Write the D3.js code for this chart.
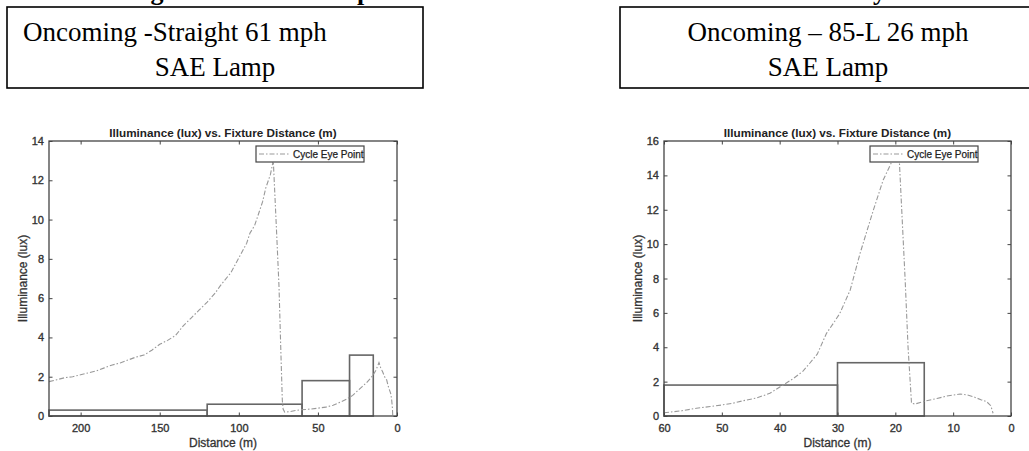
<!DOCTYPE html>
<html>
<head>
<meta charset="utf-8">
<script src="https://cdn.jsdelivr.net/npm/d3@7"></script>
<style>
    body { margin: 0; background: #fff; }
    svg { display: block; }
</style>
</head>
<body>
<script>
// left panel: oncoming straight, 61 mph
const straightDist = [220, 215, 210, 205, 200, 195, 190, 185, 180, 175, 170, 165, 160, 155, 150, 145, 140, 135, 130, 125, 120, 115, 112, 110, 105, 100, 95, 93, 90, 85, 83, 80, 78.5, 78.2, 76.2, 74.6, 73.5, 72.5, 72, 71, 68, 65, 61.5, 55, 51, 45, 40.4, 36, 32, 28, 25.5, 22, 19.2, 17, 15, 13.5, 12.2, 11.4, 10.3, 9.1, 7.8, 6.5, 5.5, 4, 3.4, 2.9, 2.7];
const straightLux = [1.75, 1.85, 1.95, 2.0, 2.1, 2.2, 2.3, 2.45, 2.6, 2.7, 2.85, 3.0, 3.1, 3.35, 3.65, 3.85, 4.1, 4.6, 5.0, 5.4, 5.8, 6.25, 6.6, 6.8, 7.3, 8.05, 8.8, 9.3, 9.7, 10.9, 11.6, 12.3, 12.9, 13.0, 9.5, 6.6, 3.5, 0.8, 0.35, 0.2, 0.22, 0.27, 0.31, 0.35, 0.39, 0.45, 0.55, 0.7, 0.85, 1.05, 1.24, 1.5, 1.7, 1.9, 2.1, 2.3, 2.55, 2.72, 2.45, 2.25, 2.0, 1.83, 1.5, 1.15, 0.85, 0.4, 0.05];
const straightBoxFrom = [220, 120, 60, 30];
const straightBoxTo = [120, 60, 30, 15];
const straightBoxLux = [0.3, 0.6, 1.8, 3.1];

// right panel: oncoming 85-L, 26 mph
const leftTurnDist = [60, 57, 54.4, 52, 50, 48, 46.3, 44, 41.7, 39.9, 37.6, 36, 34.8, 33.5, 31.9, 30.5, 29.6, 27.8, 26.1, 23.8, 22.1, 20.6, 19.9, 19.5, 19.3, 18.3, 17.8, 17.2, 16.6, 14.6, 12.8, 11.1, 8.8, 7.5, 6.5, 5.2, 4.2, 3.5, 3.1];
const leftTurnLux = [0.19, 0.3, 0.45, 0.55, 0.64, 0.75, 0.89, 1.05, 1.32, 1.7, 2.19, 2.6, 3.07, 3.6, 4.81, 5.5, 5.97, 7.33, 9.46, 11.98, 13.73, 14.8, 15.2, 15.1, 14.8, 7.9, 4.0, 0.74, 0.7, 0.89, 1.02, 1.16, 1.28, 1.22, 1.12, 0.95, 0.83, 0.6, 0.16];
const leftTurnBoxFrom = [60, 30];
const leftTurnBoxTo = [30, 15];
const leftTurnBoxLux = [1.8, 3.1];

const straightXTicks = [200, 150, 100, 50, 0];
const straightYTicks = [0, 2, 4, 6, 8, 10, 12, 14];
const leftTurnXTicks = [60, 50, 40, 30, 20, 10, 0];
const leftTurnYTicks = [0, 2, 4, 6, 8, 10, 12, 14, 16];

const headerTitle = "Oncoming Vehicle Headlamp Illuminance versus Fixture Distance at the Cycle Rider Level";
const caseLines = [
    ["Oncoming -Straight 61 mph", "SAE Lamp"],
    ["Oncoming \u2013 85-L 26 mph", "SAE Lamp"]
];
const plotTitle = "Illuminance (lux) vs. Fixture Distance (m)";
const xTitle = "Distance (m)";
const yTitle = "Illuminance (lux)";
const legendLabel = "Cycle Eye Point";

const SANS = "'Liberation Sans', Arial, Helvetica, sans-serif";
const SERIF = "'Liberation Serif', 'Times New Roman', serif";
const INK = "#333";

const svg = d3.select("body")
    .append("svg")
    .attr("width", 1029)
    .attr("height", 451);

// caption of the page, cut off at the top edge as in the scan
svg.append("text")
    .attr("x", 48)
    .attr("y", -0.5)
    .attr("font-family", SERIF)
    .attr("font-weight", "bold")
    .attr("font-size", 26)
    .attr("fill", "#000")
    .text(headerTitle);

// the two case boxes
function drawCaseBox(x, lines, firstX) {
    let g = svg.append("g");
    g.append("rect")
        .attr("x", x).attr("y", 7)
        .attr("width", 416).attr("height", 81)
        .attr("fill", "#fff")
        .attr("stroke", "#000")
        .attr("stroke-width", 1.6);

    g.append("text")
        .attr("x", firstX === null ? x + 208 : firstX)
        .attr("y", 41)
        .attr("text-anchor", firstX === null ? "middle" : "start")
        .attr("font-family", SERIF)
        .attr("font-size", 27)
        .attr("fill", "#000")
        .text(lines[0]);

    g.append("text")
        .attr("x", x + 208)
        .attr("y", 76)
        .attr("text-anchor", "middle")
        .attr("font-family", SERIF)
        .attr("font-size", 27)
        .attr("fill", "#000")
        .text(lines[1]);
}

drawCaseBox(7, caseLines[0], 23);
drawCaseBox(620, caseLines[1], null);

function drawPanel(opt) {
    let x = d3.scaleLinear().domain(opt.xDomain).range([opt.left, opt.right]);
    let y = d3.scaleLinear().domain(opt.yDomain).range([opt.bottom, opt.top]);
    let g = svg.append("g");

    // boxes (bars spanning distance ranges)
    g.append("g")
        .selectAll("rect")
        .data(opt.boxLux.map((v, i) => ({from: opt.boxFrom[i], to: opt.boxTo[i], lux: v})))
        .enter()
        .append("rect")
        .attr("x", d => Math.min(x(d.from), x(d.to)))
        .attr("width", d => Math.abs(x(d.to) - x(d.from)))
        .attr("y", d => y(d.lux))
        .attr("height", d => y(0) - y(d.lux))
        .attr("fill", "none")
        .attr("stroke", "#666")
        .attr("stroke-width", 1.6);

    // dash-dot curve
    let pts = opt.dist.map((d, i) => [d, opt.lux[i]]);
    g.append("path")
        .datum(pts)
        .attr("fill", "none")
        .attr("stroke", "#999")
        .attr("stroke-width", 1.1)
        .attr("stroke-dasharray", "5,2,1.5,2")
        .attr("d", d3.line().x(p => x(p[0])).y(p => y(p[1])));

    // axes, MATLAB style: ticks inside on all four sides
    let tick = 3.5;
    let styleAxis = function (sel) {
        sel.select(".domain").remove();
        sel.selectAll(".tick line").attr("stroke", "#444").attr("stroke-width", 1);
        sel.selectAll(".tick text")
            .attr("fill", INK)
            .attr("stroke", INK)
            .attr("stroke-width", 0.35)
            .attr("font-family", SANS)
            .attr("font-size", 11);
    };

    g.append("g")
        .attr("transform", "translate(0," + opt.bottom + ")")
        .call(d3.axisBottom(x).tickValues(opt.xTicks).tickSize(-tick).tickPadding(8).tickFormat(d3.format("d")))
        .call(styleAxis);
    g.append("g")
        .attr("transform", "translate(0," + opt.top + ")")
        .call(d3.axisTop(x).tickValues(opt.xTicks).tickSize(-tick).tickFormat(""))
        .call(styleAxis);
    g.append("g")
        .attr("transform", "translate(" + opt.left + ",0)")
        .call(d3.axisLeft(y).tickValues(opt.yTicks).tickSize(-tick).tickPadding(5).tickFormat(d3.format("d")))
        .call(styleAxis);
    g.append("g")
        .attr("transform", "translate(" + opt.right + ",0)")
        .call(d3.axisRight(y).tickValues(opt.yTicks).tickSize(-tick).tickFormat(""))
        .call(styleAxis);

    g.append("rect")
        .attr("x", opt.left).attr("y", opt.top)
        .attr("width", opt.right - opt.left).attr("height", opt.bottom - opt.top)
        .attr("fill", "none")
        .attr("stroke", "#444")
        .attr("stroke-width", 1.3);

    // titles
    let cx = (opt.left + opt.right) / 2;
    g.append("text")
        .attr("x", cx).attr("y", opt.top - 4)
        .attr("text-anchor", "middle")
        .attr("font-family", SANS).attr("font-weight", "bold").attr("font-size", 11.7)
        .attr("fill", "#222")
        .text(plotTitle);
    g.append("text")
        .attr("x", cx).attr("y", opt.bottom + 31)
        .attr("text-anchor", "middle")
        .attr("font-family", SANS).attr("font-size", 12)
        .attr("fill", INK).attr("stroke", INK).attr("stroke-width", 0.3)
        .text(xTitle);
    g.append("text")
        .attr("transform", "translate(" + (opt.left - 22) + "," + ((opt.top + opt.bottom) / 2) + ") rotate(-90)")
        .attr("text-anchor", "middle")
        .attr("font-family", SANS).attr("font-size", 12)
        .attr("fill", INK).attr("stroke", INK).attr("stroke-width", 0.3)
        .text(yTitle);

    // legend
    let lx = opt.right - 141, ly = opt.top + 5;
    g.append("rect")
        .attr("x", lx).attr("y", ly)
        .attr("width", 108).attr("height", 16)
        .attr("fill", "#fff")
        .attr("stroke", "#444")
        .attr("stroke-width", 1.2);
    g.append("line")
        .attr("x1", lx + 3).attr("x2", lx + 34)
        .attr("y1", ly + 8).attr("y2", ly + 8)
        .attr("stroke", "#999")
        .attr("stroke-width", 1.1)
        .attr("stroke-dasharray", "5,2,1.5,2");
    g.append("text")
        .attr("x", lx + 37).attr("y", ly + 11.5)
        .attr("font-family", SANS).attr("font-size", 10)
        .attr("fill", "#222").attr("stroke", "#222").attr("stroke-width", 0.25)
        .text(legendLabel);
}

drawPanel({
    left: 49, right: 397, top: 141, bottom: 416,
    xDomain: [220, 0], yDomain: [0, 14],
    xTicks: straightXTicks, yTicks: straightYTicks,
    dist: straightDist, lux: straightLux,
    boxFrom: straightBoxFrom, boxTo: straightBoxTo, boxLux: straightBoxLux
});

drawPanel({
    left: 664, right: 1011, top: 141, bottom: 416,
    xDomain: [60, 0], yDomain: [0, 16],
    xTicks: leftTurnXTicks, yTicks: leftTurnYTicks,
    dist: leftTurnDist, lux: leftTurnLux,
    boxFrom: leftTurnBoxFrom, boxTo: leftTurnBoxTo, boxLux: leftTurnBoxLux
});
</script>
</body>
</html>
